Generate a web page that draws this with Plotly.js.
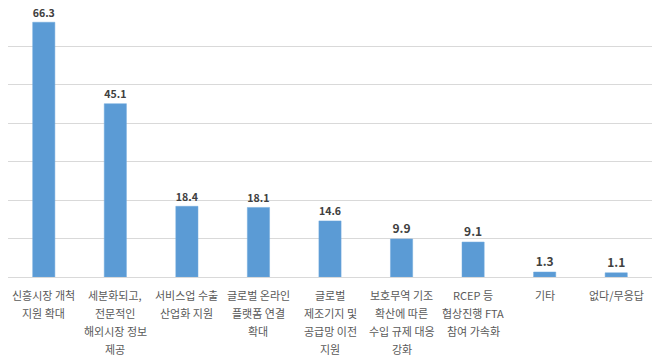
<!DOCTYPE html>
<html><head><meta charset="utf-8">
<script src="https://cdn.plot.ly/plotly-3.0.1.min.js"></script>
<style>body{margin:0;background:#fff}#c{width:660px;height:362px}</style>
</head><body><div id="c"></div>
<script>
const categories = [
  "신흥시장 개척|지원 확대",
  "세분화되고,|전문적인|해외시장 정보|제공",
  "서비스업 수출|산업화 지원",
  "글로벌 온라인|플랫폼 연결|확대",
  "글로벌|제조기지 및|공급망 이전|지원",
  "보호무역 기조|확산에 따른|수입 규제 대응|강화",
  "RCEP 등|협상진행 FTA|참여 가속화",
  "기타",
  "없다/무응답"
];
const values = [66.3, 45.1, 18.4, 18.1, 14.6, 9.9, 9.1, 1.3, 1.1];
const valueLabels = values.map(v => v.toFixed(1));

const font = '"Noto Sans CJK KR", "Malgun Gothic", sans-serif';
const annotations = [];
categories.forEach(c => {
  c.split('|').forEach((line, i) => {
    annotations.push({
      x: c, y: 0, xref: 'x', yref: 'y', text: line, showarrow: false,
      xanchor: 'center', yanchor: 'middle', yshift: -(18 + 18 * i),
      font: {family: font, size: 11, color: '#595959'}
    });
  });
});

Plotly.newPlot('c', [{
  type: 'bar',
  x: categories,
  y: values,
  text: valueLabels,
  textposition: 'outside',
  textfont: {family: font, size: 12, color: '#404040', weight: 'bold'},
  cliponaxis: false,
  marker: {color: '#5B9BD5', line: {color: '#6FA8DC', width: 0.5}},
  width: 0.31,
  hoverinfo: 'none'
}], {
  width: 660, height: 362,
  margin: {l: 8, r: 8, t: 8, b: 85},
  paper_bgcolor: '#fff', plot_bgcolor: '#fff',
  showlegend: false,
  annotations: annotations,
  xaxis: {
    showticklabels: false,
    showline: true, linecolor: '#d9d9d9', linewidth: 1,
    ticks: '', automargin: false
  },
  yaxis: {
    range: [0, 70], dtick: 10, showticklabels: false,
    gridcolor: '#d9d9d9', gridwidth: 1, zeroline: false, showline: false
  }
}, {displayModeBar: false, staticPlot: true});
</script></body></html>
